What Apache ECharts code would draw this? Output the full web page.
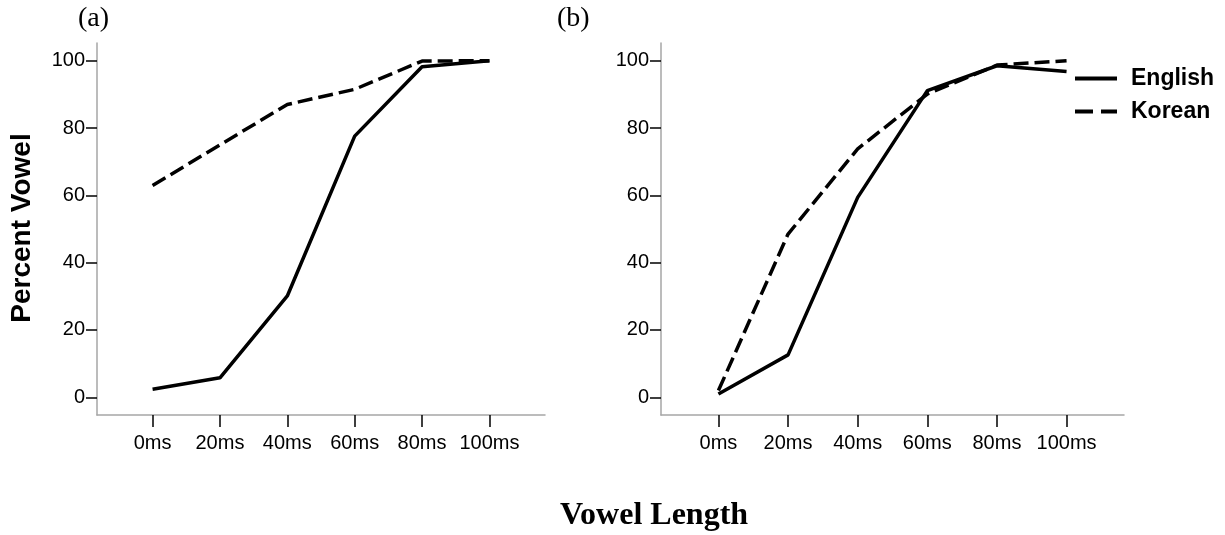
<!DOCTYPE html>
<html><head><meta charset="utf-8">
<script src="https://cdn.jsdelivr.net/npm/echarts@6/dist/echarts.min.js"></script>
<style>html,body{margin:0;padding:0;background:#fff}#c{width:1225px;height:535px}</style>
</head><body><div id="c"></div>
<script>
// ---- data ----
const lengthsMs = [0, 20, 40, 60, 80, 100];
const xTickLabels = ['0ms', '20ms', '40ms', '60ms', '80ms', '100ms'];
const yTicks = [0, 20, 40, 60, 80, 100];
const englishA = [2.4, 5.8, 30.1, 77.6, 98.2, 100];
const koreanA = [62.9, 75.0, 87.0, 91.5, 99.9, 100];
const englishB = [1.0, 12.6, 59.4, 91.1, 98.5, 96.8];
const koreanB = [2.0, 48.5, 73.8, 90.1, 98.7, 100];
const panelLabels = ['(a)', '(b)'];
const yTitle = 'Percent Vowel';
const xTitle = 'Vowel Length';

// ---- styles ----
const sans = 'Liberation Sans';
const serif = 'Liberation Serif';
const dash = [15, 6];

function pairs(vals) { return lengthsMs.map((x, i) => [x, vals[i]]); }

function xAxis(gi) {
  return {
    type: 'value', gridIndex: gi, min: -16.5, max: 116.5,
    axisLine: { show: true, onZero: false, lineStyle: { color: '#a6a6a6', width: 1.5 } },
    axisTick: { show: true, customValues: lengthsMs, length: 12, lineStyle: { color: '#000', width: 1.5 } },
    axisLabel: {
      show: true, customValues: lengthsMs, margin: 18,
      fontFamily: sans, fontSize: 20, color: '#000',
      formatter: v => xTickLabels[lengthsMs.indexOf(v)]
    },
    splitLine: { show: false }
  };
}
function yAxis(gi) {
  return {
    type: 'value', gridIndex: gi, min: -5.26, max: 105.26,
    axisLine: { show: true, onZero: false, lineStyle: { color: '#a6a6a6', width: 1.5 } },
    axisTick: { show: true, customValues: yTicks, length: 11, lineStyle: { color: '#000', width: 1.5 } },
    axisLabel: { show: true, customValues: yTicks, margin: 12, fontFamily: sans, fontSize: 20, color: '#000' },
    splitLine: { show: false }
  };
}
function line(name, vals, gi, dashed) {
  return {
    type: 'line', name: name, xAxisIndex: gi, yAxisIndex: gi,
    data: pairs(vals), symbol: 'none', showSymbol: false, silent: true,
    lineStyle: { color: '#000', width: 3.5, type: dashed ? dash : 'solid', cap: 'butt' },
    itemStyle: { color: '#000' }
  };
}

const chart = echarts.init(document.getElementById('c'), null, { renderer: 'canvas' });
chart.setOption({
  animation: false,
  backgroundColor: '#fff',
  grid: [
    { left: 97, top: 43, width: 448, height: 372 },
    { left: 661, top: 43, width: 463, height: 372 }
  ],
  xAxis: [xAxis(0), xAxis(1)],
  yAxis: [yAxis(0), yAxis(1)],
  legend: {
    orient: 'vertical', left: 1073, top: 67, padding: 0, itemWidth: 42, itemHeight: 14, itemGap: 10,
    itemStyle: { opacity: 0, borderWidth: 0 },
    textStyle: { fontFamily: sans, fontWeight: 'bold', fontSize: 23, color: '#000', padding: [0, 0, 0, 9] },
    data: [
      { name: 'English', itemStyle: { opacity: 0 }, lineStyle: { width: 4, type: 'solid' } },
      { name: 'Korean', itemStyle: { opacity: 0 }, lineStyle: { width: 4, type: [18, 8] } }
    ],
    selectedMode: false
  },
  series: [
    line('English', englishA, 0, false),
    line('Korean', koreanA, 0, true),
    line('English', englishB, 1, false),
    line('Korean', koreanB, 1, true)
  ],
  graphic: [
    { type: 'text', left: 78, top: 5, style: { text: panelLabels[0], font: '28px "' + serif + '"', fill: '#000' } },
    { type: 'text', left: 557, top: 5, style: { text: panelLabels[1], font: '28px "' + serif + '"', fill: '#000' } },
    { type: 'text', x: 22, y: 228, rotation: Math.PI / 2,
      style: { text: yTitle, font: 'bold 28px "' + sans + '"', fill: '#000', align: 'center', verticalAlign: 'middle' } },
    { type: 'text', x: 654, y: 516,
      style: { text: xTitle, font: 'bold 32px "' + serif + '"', fill: '#000', align: 'center', verticalAlign: 'middle' } }
  ]
});
</script>
</body></html>
